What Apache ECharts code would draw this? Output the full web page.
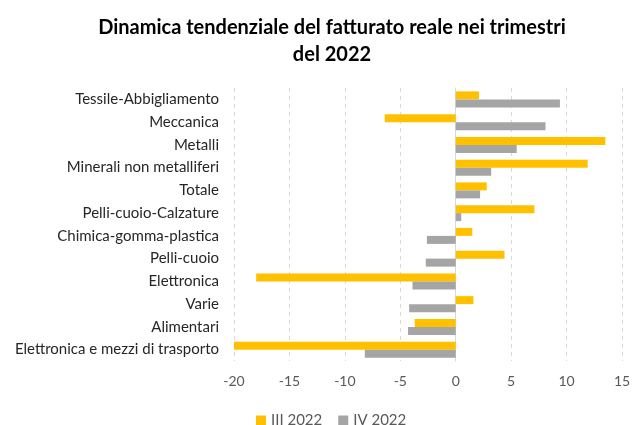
<!DOCTYPE html>
<html><head><meta charset="utf-8">
<script src="https://cdn.jsdelivr.net/npm/echarts@6/dist/echarts.min.js"></script>
<style>html,body{margin:0;padding:0;background:#fff}#c{width:640px;height:425px}</style>
</head><body><div id="c"></div>
<script>
const categories = ["Tessile-Abbigliamento","Meccanica","Metalli","Minerali non metalliferi","Totale","Pelli-cuoio-Calzature","Chimica-gomma-plastica","Pelli-cuoio","Elettronica","Varie","Alimentari","Elettronica e mezzi di trasporto"];
const seriesNames = ["III 2022","IV 2022"];
const q3 = [2.1, -6.4, 13.5, 11.9, 2.8, 7.1, 1.5, 4.4, -18.0, 1.6, -3.7, -20.1];
const q4 = [9.4, 8.1, 5.5, 3.2, 2.2, 0.5, -2.6, -2.7, -3.9, -4.2, -4.3, -8.2];
const xTicks = {min: -20, max: 15, interval: 5};
const font = "Lato, 'Open Sans', sans-serif";
const chart = echarts.init(document.getElementById('c'));
chart.setOption({
  animation: false,
  textStyle: {fontFamily: font},
  title: {text: "Dinamica tendenziale del fatturato reale nei trimestri\ndel 2022", left: 327, textAlign: 'center', top: 9,
    textStyle: {fontSize: 20, fontWeight: 'bold', color: '#000', lineHeight: 27, fontFamily: font}},
  legend: {top: 408, left: 251, itemWidth: 10, itemHeight: 10, itemGap: 16, icon: 'rect',
    textStyle: {fontSize: 15, color: '#595959', fontFamily: font}, data: seriesNames},
  grid: {left: 234, right: 18, top: 88, bottom: 64, containLabel: false},
  xAxis: {type: 'value', min: xTicks.min, max: xTicks.max, interval: xTicks.interval,
    axisLine: {show: false}, axisTick: {show: false},
    axisLabel: {fontSize: 14, color: '#595959', margin: 13, fontFamily: font},
    splitLine: {show: true, lineStyle: {color: '#d9d9d9', type: [4, 4], width: 1}}},
  yAxis: {type: 'category', data: categories, inverse: true,
    axisLine: {show: true, onZero: true, lineStyle: {color: '#d9d9d9'}}, axisTick: {show: false},
    axisLabel: {fontSize: 15, color: '#262626', margin: 15, fontFamily: font}},
  series: [
    {name: seriesNames[0], type: 'bar', data: q3, barWidth: 8, barGap: '0%', itemStyle: {color: '#FFC000'}},
    {name: seriesNames[1], type: 'bar', data: q4, barWidth: 8, barGap: '0%', itemStyle: {color: '#A5A5A5'}}
  ]
});
</script></body></html>
